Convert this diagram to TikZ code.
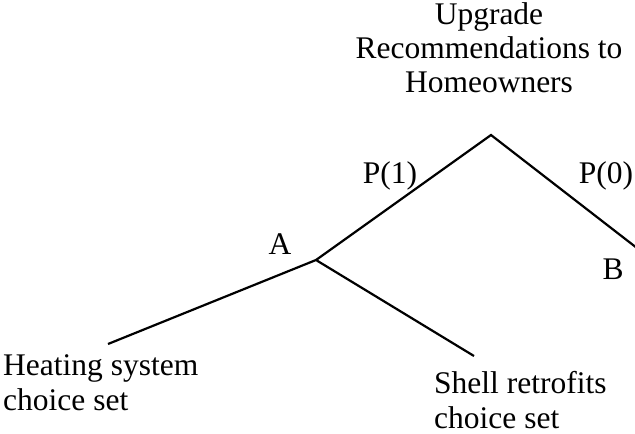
\documentclass[tikz,border=0pt]{standalone}
\usepackage{fontspec}
\setmainfont{Liberation Serif}
\begin{document}
\begin{tikzpicture}[x=1pt,y=-1pt,
  lbl/.style={inner sep=0pt, font=\fontsize{31.5}{34}\selectfont},
  botlbl/.style={lbl, font=\fontsize{31.5}{35}\selectfont},
  branch/.style={line width=2.2pt, line cap=butt, line join=miter}]
\clip (0,0) rectangle (635,434);
% junctions
\coordinate (root) at (491,135);
\coordinate (A) at (316,260);
\coordinate (Bend) at (655,262);
\coordinate (heatend) at (108,344);
\coordinate (shellend) at (474,356);
% labels (base anchor of a multi-line node = baseline of its last line)
\node[lbl, align=center, anchor=base] (top) at (489,92) {Upgrade\\Recommendations to\\Homeowners};
\node[lbl, anchor=base] (p1) at (390,183) {P(1)};
\node[lbl, anchor=base] (p0) at (606,183) {P(0)};
\node[lbl, anchor=base] (la) at (280,254) {A};
\node[lbl, anchor=base] (lb) at (613,279) {B};
\node[botlbl, align=left, anchor=base west] (heat) at (3,410) {Heating system\\choice set};
\node[botlbl, align=left, anchor=base west] (shell) at (434,428) {Shell retrofits\\choice set};
% branches
\draw[branch] (A) -- (root) -- (Bend);
\draw[branch] (heatend) -- (A) -- (shellend);
\end{tikzpicture}
\end{document}
